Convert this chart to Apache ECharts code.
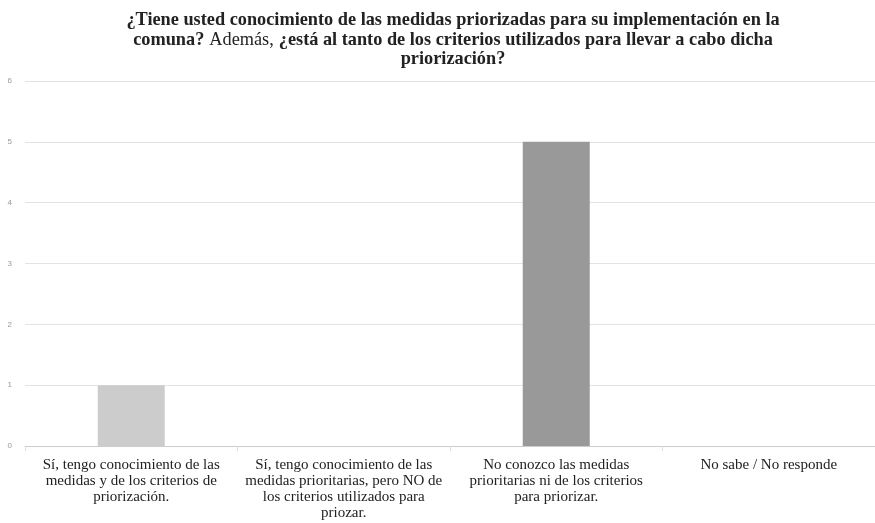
<!DOCTYPE html>
<html><head><meta charset="utf-8">
<script src="https://cdn.jsdelivr.net/npm/echarts@6/dist/echarts.min.js"></script>
<style>html,body{margin:0;padding:0;background:#fff}#c{width:875px;height:523px}</style>
</head><body><div id="c"></div>
<script>
const categories = [
  'Sí, tengo conocimiento de las\nmedidas y de los criterios de\npriorización.',
  'Sí, tengo conocimiento de las\nmedidas prioritarias, pero NO de\nlos criterios utilizados para\npriozar.',
  'No conozco las medidas\nprioritarias ni de los criterios\npara priorizar.',
  'No sabe / No responde'
];
const values = [1, 0, 5, 0];
const barColors = ['#cccccc', '#cccccc', '#999999', '#999999'];
const yTicks = [0, 1, 2, 3, 4, 5, 6];

const chart = echarts.init(document.getElementById('c'));
chart.setOption({
  animation: false,
  title: {
    text: '{b|¿Tiene usted conocimiento de las medidas priorizadas para su implementación en la}\n{b|comuna?} {n|Además,} {b|¿está al tanto de los criterios utilizados para llevar a cabo dicha}\n{b|priorización?}',
    left: 448, top: 6,
    textAlign: 'center',
    textStyle: {
      rich: {
        b: { fontFamily: 'Liberation Serif', fontWeight: 'bold', fontSize: 18.3, color: '#222', lineHeight: 19.5 },
        n: { fontFamily: 'Liberation Serif', fontWeight: 'normal', fontSize: 18.3, color: '#222', lineHeight: 19.5 }
      }
    }
  },
  grid: { left: 25, right: -2, top: 81, bottom: 77, containLabel: false },
  xAxis: {
    type: 'category',
    data: categories,
    axisLine: { show: true, lineStyle: { color: '#cccccc' } },
    axisTick: { show: true, alignWithLabel: false, length: 5, lineStyle: { color: '#dddddd' } },
    axisLabel: { interval: 0, fontFamily: 'Liberation Serif', fontSize: 15, color: '#222', lineHeight: 16, margin: 11 }
  },
  yAxis: {
    type: 'value', min: yTicks[0], max: yTicks[yTicks.length - 1], interval: 1,
    axisLine: { show: false }, axisTick: { show: false },
    splitLine: { lineStyle: { color: '#e3e3e3' } },
    axisLabel: { fontSize: 8, color: '#999', margin: 13, fontFamily: 'Liberation Sans' }
  },
  series: [{
    type: 'bar',
    barWidth: 67,
    data: values.map((v, i) => ({ value: v, itemStyle: { color: barColors[i] } }))
  }]
});
</script></body></html>
